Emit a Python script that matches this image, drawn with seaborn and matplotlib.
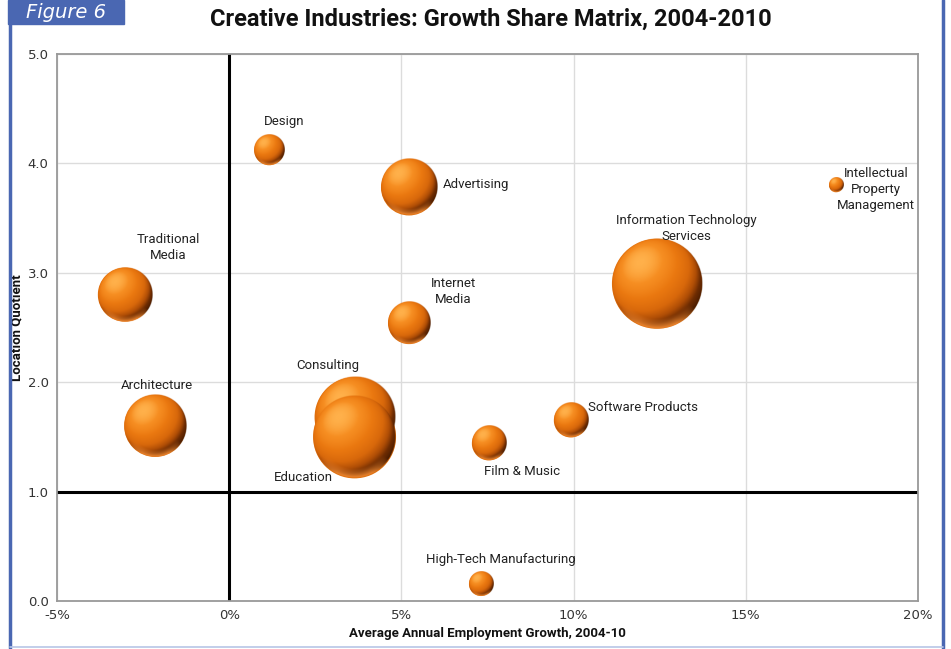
import numpy as np
import pandas as pd
import matplotlib
matplotlib.use("Agg")
import matplotlib.pyplot as plt
from matplotlib.colors import LinearSegmentedColormap, to_rgb
from matplotlib.patches import Rectangle
from matplotlib.lines import Line2D
from matplotlib.ticker import FuncFormatter
import seaborn as sns

# Growth-share data for each creative industry
industries = ["Design", "Advertising", "Traditional\nMedia", "Internet\nMedia",
              "Information Technology\nServices", "Intellectual\nProperty\nManagement",
              "Architecture", "Consulting", "Education", "Film & Music",
              "Software Products", "High-Tech Manufacturing"]
growth_pct = [1.16, 5.22, -3.03, 5.22, 12.42, 17.62, -2.15, 3.64, 3.64, 7.54, 9.92, 7.31]
location_quotient = [4.12, 3.78, 2.80, 2.54, 2.90, 3.80, 1.60, 1.68, 1.50, 1.44, 1.65, 0.155]
employment = [2.25, 7.84, 7.29, 4.41, 20.25, 0.49, 9.61, 16.0, 17.2, 2.89, 2.89, 1.44]

# label offsets (points) and alignment
label_dx = [11, 24, 31, 32, 21, 29, 1, -19, -37, 24, 12, 14]
label_dy = [21, 2, 34, 23, 40, -3, 29, 37, -29, -20, 9, 18]
label_ha = ["center", "left", "center", "center", "center", "center",
            "center", "center", "center", "center", "left", "center"]

x_ticks = [-5, 0, 5, 10, 15, 20]
y_ticks = [0, 1, 2, 3, 4, 5]

df = pd.DataFrame({"industry": industries, "growth": growth_pct,
                   "lq": location_quotient, "emp": employment})

sns.set_theme(style="white")
plt.rcParams["font.family"] = ["Roboto", "DejaVu Sans"]

DPI = 100
fig = plt.figure(figsize=(9.51, 6.49), dpi=DPI)
ax = fig.add_axes([57 / 951, 1 - 601 / 649, (918 - 57) / 951, (601 - 54) / 649])
ax.set_xlim(-5, 20)
ax.set_ylim(0, 5)

max_area = 4200.0
sns.scatterplot(data=df, x="growth", y="lq", size="emp",
                size_norm=(0, max(employment)), sizes=(0, max_area),
                color="#e0700e", edgecolor="none", linewidth=0,
                legend=False, ax=ax, zorder=3)


def sphere_rgba(n=160):
    """Lit orange sphere texture with soft edge and a reflected bottom rim."""
    c = np.linspace(-1, 1, n)
    u, v = np.meshgrid(c, -c)
    rho = np.sqrt(u ** 2 + v ** 2)
    nz = np.sqrt(np.clip(1 - rho ** 2, 0, 1))
    light = np.array([-0.38, 0.48, 0.79])
    light = light / np.linalg.norm(light)
    inten = u * light[0] + v * light[1] + nz * light[2]
    ramp = LinearSegmentedColormap.from_list(
        "lit", [(0.0, "#3c1700"), (0.30, "#6e2c02"), (0.45, "#b04e06"),
                (0.60, "#d8680b"), (0.78, "#ea7810"), (0.92, "#f68e22"),
                (1.0, "#ffb04a")])
    rgb = ramp(np.clip((inten + 0.5) / 1.5, 0, 1))[..., :3]
    # warm light bounced onto the lower rim
    bounce = np.clip((-v / np.maximum(rho, 1e-6) - 0.55) / 0.35, 0, 1) * \
        np.clip((rho - 0.78) / 0.2, 0, 1)
    rim = np.array(to_rgb("#e8822c"))
    rgb = rgb * (1 - bounce[..., None]) + rim * bounce[..., None]
    alpha = np.clip((1 - rho) * n / 2.5, 0, 1)
    return np.dstack([rgb, alpha])


texture = sphere_rgba()
px_per_x = ax.transData.transform((1, 0))[0] - ax.transData.transform((0, 0))[0]
px_per_y = ax.transData.transform((0, 1))[1] - ax.transData.transform((0, 0))[1]
for k, (gx, gy, e) in enumerate(zip(growth_pct, location_quotient, employment)):
    area = e / max(employment) * max_area
    r_px = np.sqrt(area) / 2.0 * DPI / 72.0
    rx, ry = r_px / px_per_x, r_px / px_per_y
    ax.imshow(texture, extent=(gx - rx, gx + rx, gy - ry, gy + ry),
              aspect="auto", interpolation="bilinear", zorder=4 + k * 0.01)

for name, gx, gy, dx, dy, ha in zip(industries, growth_pct, location_quotient,
                                    label_dx, label_dy, label_ha):
    ax.annotate(name, (gx, gy), xytext=(dx, dy), textcoords="offset points",
                ha=ha, va="center", fontsize=9.5, color="#222222",
                linespacing=1.3, zorder=6)

ax.set_xlim(-5, 20)
ax.set_ylim(0, 5)
ax.set_xticks(x_ticks)
ax.set_yticks(y_ticks)
ax.xaxis.set_major_formatter(FuncFormatter(lambda v, p: f"{v:.0f}%"))
ax.yaxis.set_major_formatter(FuncFormatter(lambda v, p: f"{v:.1f}"))
ax.tick_params(axis="both", length=0, labelcolor="#333333", pad=6)
for lab in ax.get_xticklabels() + ax.get_yticklabels():
    lab.set_fontfamily(["DejaVu Sans"])
    lab.set_fontsize(9.5)
ax.grid(True, color="#dcdcdc", linewidth=1)
ax.set_axisbelow(True)
for sp in ax.spines.values():
    sp.set_color("#999999")
    sp.set_linewidth(1.3)

ax.axvline(0, color="black", linewidth=2.2, zorder=2)
ax.axhline(1.0, color="black", linewidth=2.2, zorder=2)

ax.set_xlabel("Average Annual Employment Growth, 2004-10", fontsize=9.5,
              fontweight="bold", color="#111111", labelpad=3)
ax.set_ylabel("Location Quotient", fontsize=9.5, fontweight="bold",
              color="#111111", labelpad=3)

fig.text(491 / 951, 1 - 19 / 649, "Creative Industries: Growth Share Matrix, 2004-2010",
         ha="center", va="center", fontsize=17, fontweight="bold", color="#111111")

# page frame and figure tag
blue = "#4a67b2"
fig.add_artist(Line2D([10 / 951, 10 / 951], [0.002, 1 - 24 / 649], color=blue,
                      linewidth=2.5, transform=fig.transFigure))
fig.add_artist(Line2D([943 / 951, 943 / 951], [0.002, 1.0], color=blue,
                      linewidth=2.5, transform=fig.transFigure))
fig.add_artist(Line2D([10 / 951, 943 / 951], [2 / 649, 2 / 649], color="#b8c6e6",
                      linewidth=1.2, transform=fig.transFigure))
fig.add_artist(Rectangle((8 / 951, 1 - 24 / 649), 116 / 951, 24 / 649,
                         transform=fig.transFigure, color=blue, zorder=5))
fig.text(66 / 951, 1 - 12 / 649, "Figure 6", ha="center", va="center",
         fontsize=14, style="italic", color="white", zorder=6,
         family=["DejaVu Sans"])

fig.savefig("out.png", dpi=DPI)
